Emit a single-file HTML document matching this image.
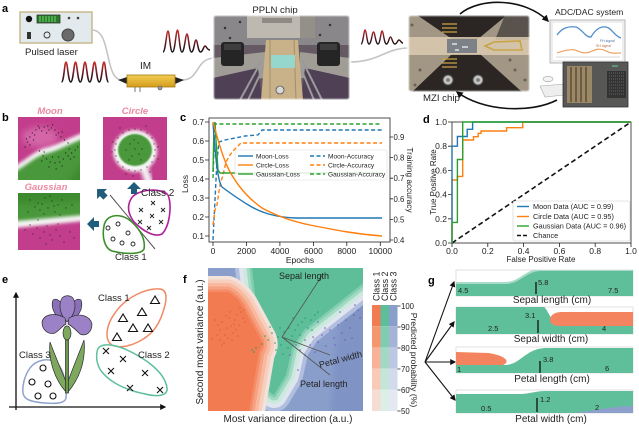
<!DOCTYPE html>
<html><head><meta charset="utf-8"><style>
html,body{margin:0;padding:0;background:#fff;}
svg{display:block;font-family:"Liberation Sans",sans-serif;}
</style></head><body>
<svg width="639" height="425" viewBox="0 0 639 425" xmlns="http://www.w3.org/2000/svg">
<defs>
<filter id="b1" x="-20%" y="-20%" width="140%" height="140%"><feGaussianBlur stdDeviation="0.8"/></filter>
<filter id="b15" x="-30%" y="-30%" width="160%" height="160%"><feGaussianBlur stdDeviation="1.5"/></filter>
<filter id="b2" x="-30%" y="-30%" width="160%" height="160%"><feGaussianBlur stdDeviation="2.2"/></filter>
<filter id="b4" x="-40%" y="-40%" width="180%" height="180%"><feGaussianBlur stdDeviation="3.5"/></filter>
<clipPath id="cM"><rect x="18" y="117" width="62" height="63"/></clipPath>
<clipPath id="cC"><rect x="103" y="117" width="64" height="63"/></clipPath>
<clipPath id="cG"><rect x="18" y="193" width="62" height="57"/></clipPath>
<clipPath id="cF"><rect x="208" y="268" width="155" height="143"/></clipPath>
<clipPath id="cP"><rect x="213" y="15" width="137" height="85" rx="3"/></clipPath>
<clipPath id="cZ"><rect x="408" y="15" width="122" height="77" rx="3"/></clipPath>
<clipPath id="s1"><rect x="456" y="270" width="177" height="26"/></clipPath>
<clipPath id="s2"><rect x="456" y="307" width="177" height="27"/></clipPath>
<clipPath id="s3"><rect x="456" y="347" width="177" height="26"/></clipPath>
<clipPath id="s4"><rect x="456" y="390" width="177" height="23"/></clipPath>
<linearGradient id="pg1" x1="0" y1="62" x2="0" y2="82" gradientUnits="userSpaceOnUse"><stop offset="0" stop-color="#c8302c"/><stop offset="0.55" stop-color="#6a1a22"/><stop offset="1" stop-color="#111"/></linearGradient>
<linearGradient id="pg2" x1="0" y1="30" x2="0" y2="52" gradientUnits="userSpaceOnUse"><stop offset="0" stop-color="#c8302c"/><stop offset="0.55" stop-color="#6a1a22"/><stop offset="1" stop-color="#111"/></linearGradient>
<linearGradient id="pg3" x1="0" y1="29" x2="0" y2="44" gradientUnits="userSpaceOnUse"><stop offset="0" stop-color="#c8302c"/><stop offset="0.55" stop-color="#6a1a22"/><stop offset="1" stop-color="#111"/></linearGradient>
<linearGradient id="im" x1="0" y1="0" x2="0" y2="1"><stop offset="0" stop-color="#f3cf52"/><stop offset="1" stop-color="#d49b1c"/></linearGradient>
<marker id="ah" viewBox="0 0 10 10" refX="8" refY="5" markerWidth="7" markerHeight="7" markerUnits="userSpaceOnUse" orient="auto"><path d="M0 0 L10 5 L0 10 Z" fill="#111"/></marker>
<marker id="ah2" viewBox="0 0 10 10" refX="8" refY="5" markerWidth="6" markerHeight="6" markerUnits="userSpaceOnUse" orient="auto"><path d="M0 0 L10 5 L0 10 Z" fill="#111"/></marker>
</defs>

<!-- ================= PANEL A ================= -->
<text x="2" y="12" font-size="11" font-weight="bold">a</text>
<rect x="20" y="12" width="72" height="31" fill="#e2eaee" stroke="#c8b88e" stroke-width="1.5"/>
<circle cx="29" cy="19" r="3.2" fill="#111"/>
<rect x="37" y="15" width="23" height="8" fill="#2a7a2a" stroke="#333" stroke-width="0.8"/>
<path d="M40 16v6M43 16v6M46 16v6M49 16v6M52 16v6M55 16v6" stroke="#62c862" stroke-width="1.2"/>
<circle cx="69" cy="18" r="1.3" fill="#444"/><circle cx="78" cy="18" r="1.3" fill="#444"/>
<rect x="27" y="32" width="4" height="7" fill="#333"/>
<circle cx="47" cy="35" r="3" fill="none" stroke="#333" stroke-width="0.9"/>
<circle cx="68" cy="35" r="6" fill="#6a6a6a" stroke="#444"/>
<text x="25" y="55" font-size="9.6" fill="#222">Pulsed laser</text>
<path d="M92 30 C112 30 104 80 122 80" fill="none" stroke="#c4c4c4" stroke-width="1.6"/>
<path d="M182 80 C200 80 195 59 214 58" fill="none" stroke="#c4c4c4" stroke-width="1.6"/>
<path d="M349 62 C380 62 385 48 409 48" fill="none" stroke="#c4c4c4" stroke-width="1.6"/>
<path d="M61.5 82 C64 82 64.5 62 66 62 C67.5 62 68.25 82 70.75 82 C73.25 82 74 62 75.5 62 C77 62 77.75 82 80.25 82 C82.75 82 83.5 62 85 62 C86.5 62 87.25 82 89.75 82 C92.25 82 93 62 94.5 62 C96 62 96.75 82 99.25 82 C101.75 82 102.5 62 104 62 C105.5 62 106 82 108.5 82" fill="none" stroke="url(#pg1)" stroke-width="1.6"/>
<path d="M163 52 C165.5 52 166.5 31 168 31 C169.5 31 170 52 172.5 52 C175 52 176 30 177.5 30 C179 30 179.5 52 182 52 C184.5 52 185.5 34 187 34 C188.5 34 189 52 191.5 52 C194 52 194.5 40 196 40 C197.5 40 198 52 200.5 52 C203 52 203.5 46 205 46 C206.5 46 207 50 210 50" fill="none" stroke="url(#pg2)" stroke-width="1.5"/>
<path d="M361 44 C363 44 364 30 365 30 C366.5 30 367 44 369 44 C371.5 44 372 32 373.5 32 C375 32 375.5 44 378 44 C380 44 381 31 382 31 C383.5 31 384 44 386.5 44 C388.5 44 389 37 390.5 37 C392 37 392.5 44 395 44 C397 44 397.5 40 399 40 C400.5 40 401 43 403 43" fill="none" stroke="url(#pg3)" stroke-width="1.4"/>
<text x="140" y="69" font-size="10" fill="#222">IM</text>
<path d="M118 80 L127 77 L127 84 Z" fill="#222"/>
<path d="M184 80 L175 77 L175 84 Z" fill="#222"/>
<rect x="127" y="75" width="48" height="12" fill="url(#im)" stroke="#a47a16" stroke-width="0.8"/>
<path d="M135 87v5M140 87v5" stroke="#777" stroke-width="1"/>
<circle cx="160" cy="88" r="2" fill="#999" stroke="#555" stroke-width="0.6"/>

<text x="275" y="13" font-size="9.6" text-anchor="middle" fill="#222">PPLN chip</text>
<g clip-path="url(#cP)">
<rect x="213" y="15" width="137" height="85" fill="#655a63"/>
<rect x="213" y="15" width="137" height="30" fill="#8a878a"/>
<path d="M225 28h0M240 22h0M330 25h0M320 35h0M230 38h0" stroke="#333" stroke-width="2.5" stroke-linecap="round"/>
<rect x="247" y="15" width="68" height="23" fill="#bdb8b0"/>
<rect x="300" y="15" width="15" height="23" fill="#938f89"/>
<rect x="262" y="18" width="30" height="5" fill="#6f6a66" opacity="0.6"/>
<path d="M213 58 L265 52 L265 78 L213 82 Z" fill="#a09c96"/>
<path d="M300 52 L350 58 L350 82 L300 78 Z" fill="#a09c96"/>
<rect x="221" y="42" width="23" height="24" rx="3" fill="#252525"/>
<rect x="224" y="44" width="17" height="6" fill="#3e3e3e"/>
<rect x="317" y="42" width="23" height="24" rx="3" fill="#252525"/>
<rect x="320" y="44" width="17" height="6" fill="#3e3e3e"/>
<path d="M213 78 L258 68 L262 100 L213 100 Z" fill="#4f4055"/>
<path d="M350 78 L305 68 L301 100 L350 100 Z" fill="#4f4055"/>
<path d="M240 100 L262 60 M248 100 L264 66 M322 100 L302 60 M314 100 L300 66" stroke="#9a9a9a" stroke-width="2"/>
<path d="M266 40 L298 40 L303 100 L261 100 Z" fill="#c9b189"/>
<path d="M270 40 L270 100 M294 40 L296 100" stroke="#a68f68" stroke-width="1"/>
<rect x="271" y="55" width="24" height="13" fill="#95d7cc"/>
<circle cx="280" cy="90" r="4" fill="#d8d8d8" stroke="#555" stroke-width="0.8"/>
</g>
<rect x="213" y="15" width="137" height="85" rx="3" fill="none" stroke="#fff" stroke-width="2" filter="url(#b1)"/>

<g clip-path="url(#cZ)">
<rect x="408" y="15" width="122" height="77" fill="#a29684"/>
<path d="M417 15 L507 15 L478 39 L452 39 Z" fill="#2b2624"/>
<path d="M452 54 L480 54 L522 92 L412 92 Z" fill="#2b2624"/>
<path d="M505 15 L530 15 L530 40 L495 40 Z" fill="#5a534d"/>
<path d="M412 25h0M420 70h0M515 70h0M525 80h0M415 85h0M510 60h0" stroke="#6a6055" stroke-width="3" stroke-linecap="round"/>
<rect x="408" y="37" width="122" height="18" fill="#dccbb0" opacity="0.85"/>
<rect x="447" y="39" width="30" height="14" fill="#7c8188"/>
<path d="M452 44h5M462 47h6M455 50h4" stroke="#e0e4e6" stroke-width="1.5"/>
<path d="M485 46 L494 42 L520 41 L522 50 L494 50 Z" fill="none" stroke="#c9a444" stroke-width="1.6"/>
<path d="M442 24h15M442 28h15M442 32h15M442 59h15M442 63h15M442 67h15" stroke="#c9a444" stroke-width="1.3"/>
<circle cx="448" cy="80" r="5" fill="#c4c4c4" stroke="#555"/>
<circle cx="478" cy="80" r="5" fill="#c4c4c4" stroke="#555"/>
<circle cx="448" cy="80" r="1.8" fill="#777"/><circle cx="478" cy="80" r="1.8" fill="#777"/>
</g>
<rect x="408" y="15" width="122" height="77" rx="3" fill="none" stroke="#fff" stroke-width="2" filter="url(#b1)"/>
<text x="423" y="101" font-size="9.6" fill="#222">MZI chip</text>
<path d="M460 14 C480 -3 525 -2 548 21" fill="none" stroke="#111" stroke-width="1.6" marker-end="url(#ah)"/>
<path d="M557 100 C530 114 482 111 457 92" fill="none" stroke="#111" stroke-width="1.6" marker-end="url(#ah)"/>
<text x="555" y="15" font-size="8.6" fill="#222">ADC/DAC system</text>
<rect x="550" y="20" width="75" height="43" fill="#eeeeee" stroke="#b8b8b8" stroke-width="1"/>
<rect x="553" y="23" width="69" height="37" fill="#fff"/>
<path d="M557 35 C562 28 568 26 576 27 C582 29 586 38 591 37 C595 30 600 26 606 27 C612 28 614 36 621 38" fill="none" stroke="#4f8fcf" stroke-width="1.3"/>
<path d="M557 53 C565 50 570 49 575 50 C580 52 584 54 590 52 C596 49 600 48 606 51 C612 54 616 53 621 53" fill="none" stroke="#f0a060" stroke-width="1.2"/>
<text x="600" y="42" font-size="3.5" fill="#4f6fa0">FH signal</text>
<text x="596" y="47" font-size="3.5" fill="#c07040">SH signal</text>
<path d="M556 57h64" stroke="#999" stroke-width="0.4"/>
<ellipse cx="548" cy="79" rx="5" ry="2.6" fill="#f4f4f4" stroke="#999" stroke-width="0.6"/>
<path d="M540 86 L566 84 L564 95 L545 97 Z" fill="#eee" stroke="#aaa" stroke-width="0.6"/>
<rect x="563" y="62" width="65" height="45" fill="#575755" stroke="#333" stroke-width="0.8"/>
<rect x="567" y="66" width="25" height="37" fill="#9c8866"/>
<path d="M571 67v35M576 67v35M581 67v35M586 67v35" stroke="#4a3f30" stroke-width="1.2"/>
<rect x="607" y="71" width="19" height="27" fill="#333"/>
<path d="M609 73h16M609 76h16M609 79h16M609 82h16M609 85h16M609 88h16M609 91h16M609 94h16" stroke="#777" stroke-width="0.8" stroke-dasharray="1,1"/>
<path d="M612 66h6" stroke="#5fbf8f" stroke-width="1.2"/>

<!-- ================= PANEL B ================= -->
<text x="2" y="121" font-size="11" font-weight="bold">b</text>
<text x="50" y="114" font-size="9.5" font-weight="bold" font-style="italic" fill="#ea8aa2" text-anchor="middle">Moon</text>
<text x="135" y="114" font-size="9.5" font-weight="bold" font-style="italic" fill="#ea8aa2" text-anchor="middle">Circle</text>
<text x="46" y="190" font-size="9.5" font-weight="bold" font-style="italic" fill="#ea8aa2" text-anchor="middle">Gaussian</text>
<g clip-path="url(#cM)">
<rect x="18" y="117" width="62" height="63" fill="#c23d8b"/>
<ellipse cx="40" cy="137" rx="18" ry="10" fill="#d466a8" filter="url(#b4)"/>
<path d="M5 195 L5 170 C20 166 33 151 45 148 C58 145 68 138 90 130 L90 195 Z" fill="#f4f4f4" filter="url(#b15)"/>
<path d="M5 195 L5 176 C20 172 33 157 45 154 C58 151 68 144 90 136 L90 195 Z" fill="#4a983a" filter="url(#b15)"/>
<path d="M60 195 L90 150 L90 195 Z" fill="#3d8a2f" filter="url(#b4)"/>
<path transform="matrix(1.192 0 0 1 -3.46 -1)" d="M24 148h0M26 143h0M28 138h0M30 134h0M33 131h0M36 129h0M40 128h0M43 127h0M46 129h0M49 131h0M52 134h0M54 138h0M57 141h0M60 144h0M28 146h0M32 136h0M38 132h0M44 131h0M50 136h0M35 127h0M42 134h0M47 126h0M55 133h0M25 140h0M31 141h0M36 152h0M39 157h0M42 160h0M45 163h0M49 164h0M53 163h0M56 160h0M60 157h0M63 154h0M66 151h0M68 148h0M40 153h0M47 158h0M52 158h0M58 154h0M62 160h0M44 168h0M55 167h0M65 158h0M50 170h0M38 162h0M61 150h0" stroke="#222" stroke-width="1.15" stroke-linecap="round"/>
</g>
<g clip-path="url(#cC)">
<rect x="103" y="117" width="64" height="63" fill="#c23d8b"/>
<ellipse cx="135" cy="151" rx="22" ry="21" fill="#f6f6f6" filter="url(#b15)"/>
<path d="M142 163 L150 185" stroke="#f3f3f3" stroke-width="8" filter="url(#b2)"/>
<ellipse cx="135" cy="150" rx="17" ry="16" fill="#4a983a" filter="url(#b1)"/>
<path transform="translate(8,4)" d="M147 146h0M146 140h0M144 134h0M139 129h0M133 126h0M127 125h0M121 126h0M115 129h0M110 134h0M108 140h0M107 146h0M108 152h0M110 158h0M115 163h0M121 166h0M127 167h0M133 166h0M139 163h0M144 158h0M146 152h0M150 143h0M104 148h0M112 124h0M142 168h0M125 172h0M138 122h0M118 170h0M150 155h0M105 138h0M122 140h0M127 145h0M131 150h0M124 152h0M130 139h0M118 146h0M134 145h0M126 136h0M121 156h0M133 156h0" stroke="#222" stroke-width="1.15" stroke-linecap="round"/>
</g>
<g clip-path="url(#cG)">
<rect x="18" y="193" width="62" height="57" fill="#c23d8b"/>
<path d="M5 180 L95 180 L95 220 L5 229 Z" fill="#f4f4f4" filter="url(#b15)"/>
<path d="M5 180 L95 180 L95 214 L5 222 Z" fill="#4a983a" filter="url(#b15)"/>
<path d="M5 180 L95 180 L95 200 L5 205 Z" fill="#3d8a2f" filter="url(#b4)"/>
<path d="M30 200h0M38 203h0M45 198h0M52 201h0M58 205h0M48 208h0M40 210h0M55 212h0M62 200h0M35 207h0M50 196h0M44 214h0M60 215h0M28 212h0M66 208h0M42 204h0M54 206h0M30 225h0M37 228h0M44 232h0M50 235h0M56 230h0M40 238h0M47 226h0M60 236h0M33 234h0M52 240h0M64 242h0M25 230h0M46 244h0M58 224h0M38 220h0M70 232h0M72 205h0M74 238h0" stroke="#222" stroke-width="1.15" stroke-linecap="round"/>
</g>
<path d="M110 195 L155 249" stroke="#555" stroke-width="1"/>
<path d="M104 226 C106 215 118 213 128 219 C138 226 146 238 144 249 C141 255 124 254 112 251 C104 248 102 236 104 226 Z" fill="none" stroke="#3b8f2a" stroke-width="1.6"/>
<path d="M131 199 C136 189 162 187 168 195 C172 205 170 226 162 234 C154 238 142 230 134 222 C128 214 127 206 131 199 Z" fill="none" stroke="#b0209a" stroke-width="1.6"/>
<g fill="none" stroke="#222" stroke-width="0.9">
<circle cx="108" cy="228" r="2"/><circle cx="118" cy="224" r="2"/><circle cx="128" cy="233" r="2"/><circle cx="113" cy="239" r="2"/><circle cx="122" cy="243" r="2"/><circle cx="133" cy="244" r="2"/>
</g>
<path d="M151 201 l4 4 M155 201 l-4 4 M139 208 l4 4 M143 208 l-4 4 M161 208 l4 4 M165 208 l-4 4 M150 214 l4 4 M154 214 l-4 4 M138 220 l4 4 M142 220 l-4 4 M159 220 l4 4 M163 220 l-4 4 M147 226 l4 4 M151 226 l-4 4" stroke="#222" stroke-width="0.9"/>
<text x="141" y="196" font-size="10" fill="#222">Class 2</text>
<text x="115" y="260" font-size="9.5" fill="#222">Class 1</text>
<g fill="#1f5d7a">
<path d="M127 189 L134 182 L141 189 L137 189 L137 194 L131 194 L131 189 Z"/>
<path d="M87 224 L94 217 L94 221 L99 221 L99 227 L94 227 L94 231 Z"/>
<g transform="translate(102,194) rotate(-45)"><path d="M-7 0 L0 -7 L7 0 L3 0 L3 5 L-3 5 L-3 0 Z"/></g>
</g>

<!-- ================= PANEL C ================= -->
<text x="180" y="121" font-size="11" font-weight="bold">c</text>
<rect x="209" y="118" width="181" height="124" fill="none" stroke="#222" stroke-width="0.8"/>
<g stroke="#222" stroke-width="0.8">
<path d="M205 122h4M205 141h4M205 160h4M205 179h4M205 198h4M205 217h4M205 236h4"/>
<path d="M390 137h3M390 157.6h3M390 178.2h3M390 198.8h3M390 219.4h3M390 240h3"/>
<path d="M213 242v4M246.5 242v4M279.9 242v4M313.4 242v4M346.8 242v4M380.3 242v4"/>
</g>
<g font-size="8.3" fill="#222" text-anchor="end">
<text x="204" y="125">0.7</text><text x="204" y="144">0.6</text><text x="204" y="163">0.5</text><text x="204" y="182">0.4</text><text x="204" y="201">0.3</text><text x="204" y="220">0.2</text><text x="204" y="239">0.1</text>
</g>
<g font-size="7.8" fill="#222">
<text x="393.5" y="140">0.9</text><text x="393.5" y="160.6">0.8</text><text x="393.5" y="181.2">0.7</text><text x="393.5" y="201.8">0.6</text><text x="393.5" y="222.4">0.5</text><text x="393.5" y="243">0.4</text>
</g>
<g font-size="8.5" fill="#222" text-anchor="middle">
<text x="213" y="254">0</text><text x="246.5" y="254">2000</text><text x="279.9" y="254">4000</text><text x="313.4" y="254">6000</text><text x="346.8" y="254">8000</text><text x="380.3" y="254">10000</text>
<text x="300" y="263">Epochs</text>
<text transform="translate(188,184) rotate(-90)">Loss</text>
</g>
<text transform="translate(407,180) rotate(90)" font-size="8.3" fill="#222" text-anchor="middle">Training accuracy</text>
<g fill="none" stroke-width="1.4">
<path d="M213 178 L214 150 L215 124 L382 124" stroke="#2ca02c" stroke-dasharray="4,2.5"/>
<path d="M213 240 L215 200 L217 160 L219 142 L225 140 L235 138 L245 136 L258 135 L262 130 L382 130" stroke="#1f77b4" stroke-dasharray="4,2.5"/>
<path d="M213 225 L215 210 L217 205 L220 185 L223 175 L226 162 L230 155 L234 150 L238 146 L241 143 L382 143" stroke="#ff7f0e" stroke-dasharray="4,2.5"/>
<path d="M213 172 L214 125 L215 122 L216 140 L218 170 L220 173 L382 173" stroke="#2ca02c"/>
<path d="M213 123 C215 150 217 180 222 187 C230 193 240 200 250 206 C262 213 275 217 295 218 L382 218" stroke="#1f77b4"/>
<path d="M213 122 C218 140 222 155 228 168 C235 182 245 196 262 208 C275 215 290 221 310 225 C335 230 355 234 382 236" stroke="#ff7f0e"/>
</g>
<rect x="235" y="150" width="152" height="30" rx="2" fill="#fff" fill-opacity="0.85" stroke="#ddd" stroke-width="0.6"/>
<g stroke-width="1.4">
<path d="M238 156h15" stroke="#1f77b4"/><path d="M238 165h15" stroke="#ff7f0e"/><path d="M238 174h15" stroke="#2ca02c"/>
<path d="M310 156h15" stroke="#1f77b4" stroke-dasharray="4,2.5"/><path d="M310 165h15" stroke="#ff7f0e" stroke-dasharray="4,2.5"/><path d="M310 174h15" stroke="#2ca02c" stroke-dasharray="4,2.5"/>
</g>
<g font-size="6.6" fill="#222">
<text x="256" y="158.3">Moon-Loss</text><text x="256" y="167.3">Circle-Loss</text><text x="256" y="176.3">Gaussian-Loss</text>
<text x="328" y="158.3">Moon-Accuracy</text><text x="328" y="167.3">Circle-Accuracy</text><text x="328" y="176.3">Gaussian-Accuracy</text>
</g>

<!-- ================= PANEL D ================= -->
<text x="423" y="123" font-size="11" font-weight="bold">d</text>
<rect x="452" y="122" width="179" height="121" fill="none" stroke="#222" stroke-width="0.8"/>
<g stroke="#222" stroke-width="0.8">
<path d="M448 243h4M448 218.8h4M448 194.6h4M448 170.4h4M448 146.2h4M448 122h4"/>
<path d="M452 243v4M487.8 243v4M523.6 243v4M559.4 243v4M595.2 243v4M631 243v4"/>
</g>
<g font-size="8.5" fill="#222" text-anchor="end">
<text x="447" y="246">0.0</text><text x="447" y="221.8">0.2</text><text x="447" y="197.6">0.4</text><text x="447" y="173.4">0.6</text><text x="447" y="149.2">0.8</text><text x="447" y="125">1.0</text>
</g>
<g font-size="8.5" fill="#222" text-anchor="middle">
<text x="452" y="254">0.0</text><text x="487.8" y="254">0.2</text><text x="523.6" y="254">0.4</text><text x="559.4" y="254">0.6</text><text x="595.2" y="254">0.8</text><text x="631" y="254">1.0</text>
</g>
<text x="541" y="262" font-size="8" fill="#222" text-anchor="middle">False Positive Rate</text>
<text transform="translate(436,182) rotate(-90)" font-size="8" fill="#222" text-anchor="middle">True Positive Rate</text>
<g fill="none" stroke-width="1.4">
<path d="M452 243 L631 122" stroke="#111" stroke-dasharray="5,3" stroke-width="1.6"/>
<path d="M452 243 V180 H457.4 V176.4 H462.7 V140 H473.5 V136.7 H478.2 V133.3 H481 V131 H506.6 V127.7 H522.7 V122 H631" stroke="#ff7f0e"/>
<path d="M452 243 V146.2 H457.4 V136.5 H467.2 V129.3 H472.6 V122 H631" stroke="#1f77b4"/>
<path d="M452 243 V222.4 H457.4 V159.5 H462.7 V122 H631" stroke="#2ca02c"/>
</g>
<rect x="513" y="201" width="117" height="40" rx="2" fill="#fff" fill-opacity="0.9" stroke="#ccc" stroke-width="0.6"/>
<g stroke-width="1.4">
<path d="M517 206.5h12" stroke="#1f77b4"/><path d="M517 216.5h12" stroke="#ff7f0e"/><path d="M517 226h12" stroke="#2ca02c"/><path d="M517 235.5h12" stroke="#111" stroke-dasharray="4,2"/>
</g>
<g font-size="7.3" fill="#222">
<text x="533" y="209">Moon Data (AUC = 0.99)</text><text x="533" y="219">Circle Data (AUC = 0.95)</text><text x="533" y="228.5">Gaussian Data (AUC = 0.96)</text><text x="533" y="238">Chance</text>
</g>

<!-- ================= PANEL E ================= -->
<text x="2" y="283" font-size="11" font-weight="bold">e</text>
<path d="M16 410 L16 293" stroke="#111" stroke-width="1.3" marker-end="url(#ah2)"/>
<path d="M9 407 L165 407" stroke="#111" stroke-width="1.3" marker-end="url(#ah2)"/>
<path d="M112 345 C104 340 106 325 115 313 C125 298 145 288 160 289 C168 290 167 300 163 312 C158 328 150 336 138 342 C128 347 118 348 112 345 Z" fill="none" stroke="#f08a62" stroke-width="1.5"/>
<path d="M97 352 C98 343 110 343 125 349 C145 358 165 372 167 388 C168 396 158 397 145 394 C125 390 110 382 102 372 C97 366 96 358 97 352 Z" fill="none" stroke="#5ebf9b" stroke-width="1.5"/>
<path d="M30 368 C36 360 48 357 57 363 C64 370 67 385 66 398 C65 403 58 404 45 403 C32 402 24 400 23 393 C22 385 25 375 30 368 Z" fill="none" stroke="#8fa2cc" stroke-width="1.5"/>
<g fill="none" stroke="#111" stroke-width="1.1">
<path d="M155 296 L150.5 303.5 L159.5 303.5 Z M142 308 L137.5 315.5 L146.5 315.5 Z M123 314 L118.5 321.5 L127.5 321.5 Z M133 324 L128.5 331.5 L137.5 331.5 Z M148 324 L143.5 331.5 L152.5 331.5 Z M117 333 L112.5 340.5 L121.5 340.5 Z"/>
<path d="M103 348 l6 6 M109 348 l-6 6 M120 356 l6 6 M126 356 l-6 6 M108 368 l6 6 M114 368 l-6 6 M142 370 l6 6 M148 370 l-6 6 M127 385 l6 6 M133 385 l-6 6 M157 387 l6 6 M163 387 l-6 6"/>
<circle cx="43" cy="368" r="3"/><circle cx="32" cy="382" r="3"/><circle cx="48" cy="384" r="3"/><circle cx="38" cy="396" r="3"/><circle cx="53" cy="396" r="3"/>
</g>
<text x="98" y="301" font-size="9.5" fill="#222">Class 1</text>
<text x="138" y="358" font-size="9.5" fill="#222">Class 2</text>
<text x="19" y="358" font-size="9.5" fill="#222">Class 3</text>
<g stroke="#2d2d2d" stroke-width="0.7">
<path d="M66 392 C55 380 48 360 50 342 C56 358 62 372 67 384 Z" fill="#7ea85e"/>
<path d="M68 392 C80 378 86 360 84 340 C78 356 72 370 67 384 Z" fill="#7ea85e"/>
<path d="M65.5 334 L65.5 393 L68.5 393 L68.5 334 Z" fill="#6b9a4f"/>
<ellipse cx="67" cy="333" rx="4" ry="7" fill="#7ea85e"/>
<path d="M64 322 C56 318 50 308 53 300 C56 298 60 300 62 305 Z" fill="#8a70b8"/>
<path d="M70 322 C78 318 84 308 81 300 C78 298 74 300 72 305 Z" fill="#8a70b8"/>
<path d="M67 322 C60 315 58 305 62 298 C65 295 70 295 73 298 C77 305 75 315 67 322 Z" fill="#9b82c6"/>
<path d="M65 318 C55 312 44 314 42 322 C42 330 48 335 55 333 C60 330 62 326 66 324 Z" fill="#9b82c6"/>
<path d="M69 318 C80 312 90 316 92 324 C92 332 86 337 80 334 C76 330 72 326 68 324 Z" fill="#9b82c6"/>
</g>

<!-- ================= PANEL F ================= -->
<text x="183" y="283" font-size="11" font-weight="bold">f</text>
<g clip-path="url(#cF)">
<rect x="208" y="268" width="155" height="143" fill="#8a9ecb"/>
<path d="M340 300 L380 270 L380 420 L330 420 Z" fill="#7f93c4" filter="url(#b4)"/>
<g stroke-linejoin="round">
<path d="M250 250 L380 250 L380 270 L304 330 L292 348 L286 375 L274 395 L263 388 L262 345 L258 320 Z" fill="#b0bedf" stroke="#b0bedf" stroke-width="34"/>
<path d="M250 250 L380 250 L380 270 L304 330 L292 348 L286 375 L274 395 L263 388 L262 345 L258 320 Z" fill="#dfe4ee" stroke="#dfe4ee" stroke-width="26"/>
<path d="M250 250 L380 250 L380 270 L304 330 L292 348 L286 375 L274 395 L263 388 L262 345 L258 320 Z" fill="#c9eadc" stroke="#c9eadc" stroke-width="18"/>
<path d="M250 250 L380 250 L380 270 L304 330 L292 348 L286 375 L274 395 L263 388 L262 345 L258 320 Z" fill="#a3d9c4" stroke="#a3d9c4" stroke-width="11"/>
<path d="M250 250 L380 250 L380 270 L304 330 L292 348 L286 375 L274 395 L263 388 L262 345 L258 320 Z" fill="#80ceb0" stroke="#80ceb0" stroke-width="5"/>
<path d="M250 250 L380 250 L380 270 L304 330 L292 348 L286 375 L274 395 L263 388 L262 345 L258 320 Z" fill="#5dbe99"/>
<path d="M190 292 L228 292 Q236 296 242 305 L261 340 Q263 346 259 352 L249 411 L249 430 L190 430 Z" fill="#f3e2da" stroke="#f3e2da" stroke-width="32"/>
<path d="M190 292 L228 292 Q236 296 242 305 L261 340 Q263 346 259 352 L249 411 L249 430 L190 430 Z" fill="#f7cfbe" stroke="#f7cfbe" stroke-width="25"/>
<path d="M190 292 L228 292 Q236 296 242 305 L261 340 Q263 346 259 352 L249 411 L249 430 L190 430 Z" fill="#f8b99e" stroke="#f8b99e" stroke-width="18"/>
<path d="M190 292 L228 292 Q236 296 242 305 L261 340 Q263 346 259 352 L249 411 L249 430 L190 430 Z" fill="#f6a181" stroke="#f6a181" stroke-width="11"/>
<path d="M190 292 L228 292 Q236 296 242 305 L261 340 Q263 346 259 352 L249 411 L249 430 L190 430 Z" fill="#f48c66" stroke="#f48c66" stroke-width="5"/>
<path d="M190 292 L228 292 Q236 296 242 305 L261 340 Q263 346 259 352 L249 411 L249 430 L190 430 Z" fill="#f27b52"/>
</g>
<path d="M215 320h0M218 325h0M220 330h0M222 322h0M225 335h0M227 328h0M229 318h0M231 326h0M233 333h0M235 320h0M237 315h0M239 325h0M241 312h0M243 318h0M220 340h0M224 343h0M228 338h0M232 340h0M236 330h0M240 308h0M244 310h0M226 316h0M230 312h0M234 324h0M217 335h0M245 322h0M238 336h0M222 345h0M212 339h0" stroke="#e0602a" stroke-width="1.5" stroke-linecap="round"/>
<path d="M252 350h0M254 352h0M256 348h0M265 336h0M268 340h0M272 333h0M275 343h0M278 337h0M281 345h0M284 332h0M286 340h0M289 328h0M292 336h0M295 330h0M298 325h0M302 322h0M305 318h0M308 328h0M311 320h0M315 315h0M288 348h0M276 350h0M270 327h0M262 344h0M300 335h0M312 330h0M318 312h0M283 354h0M293 318h0M280 328h0" stroke="#1f9a6e" stroke-width="1.5" stroke-linecap="round"/>
<path d="M296 345h0M300 350h0M305 340h0M310 345h0M313 337h0M318 342h0M322 335h0M326 346h0M330 330h0M334 338h0M338 325h0M342 333h0M346 320h0M350 328h0M354 315h0M358 310h0M345 340h0M325 328h0M315 352h0M305 355h0M335 345h0M352 338h0M298 370h0M290 355h0M318 322h0M340 312h0M355 305h0M360 318h0" stroke="#7656b3" stroke-width="1.5" stroke-linecap="round"/>
<path d="M282 337 L323 274 M282 337 L330 355 M282 337 L330 375" stroke="#555" stroke-width="0.8"/>
<text x="279" y="279" font-size="9" fill="#222">Sepal length</text>
<text transform="translate(320,368) rotate(-15)" font-size="9" fill="#222">Petal width</text>
<text x="300" y="387" font-size="9" fill="#222">Petal length</text>
</g>
<text x="288" y="422" font-size="10" fill="#222" text-anchor="middle">Most variance direction (a.u.)</text>
<text transform="translate(203,342) rotate(-90)" font-size="10" fill="#222" text-anchor="middle">Second most variance (a.u.)</text>
<g>
<rect x="372" y="305" width="8.5" height="21.2" fill="#f27b52"/><rect x="372" y="326.2" width="8.5" height="21.2" fill="#f5966f"/><rect x="372" y="347.4" width="8.5" height="21.2" fill="#f7b297"/><rect x="372" y="368.6" width="8.5" height="21.2" fill="#f8cbb9"/><rect x="372" y="389.8" width="8.5" height="21.2" fill="#f5ddd3"/>
<rect x="380.5" y="305" width="8.5" height="21.2" fill="#5dbe99"/><rect x="380.5" y="326.2" width="8.5" height="21.2" fill="#80ccb1"/><rect x="380.5" y="347.4" width="8.5" height="21.2" fill="#a1d9c5"/><rect x="380.5" y="368.6" width="8.5" height="21.2" fill="#c3e6d8"/><rect x="380.5" y="389.8" width="8.5" height="21.2" fill="#dcefe7"/>
<rect x="389" y="305" width="8.5" height="21.2" fill="#8a9ecb"/><rect x="389" y="326.2" width="8.5" height="21.2" fill="#a4b3d6"/><rect x="389" y="347.4" width="8.5" height="21.2" fill="#bcc7e1"/><rect x="389" y="368.6" width="8.5" height="21.2" fill="#d2daeb"/><rect x="389" y="389.8" width="8.5" height="21.2" fill="#e3e8f2"/>
</g>
<path d="M397.5 306h3M397.5 327h3M397.5 348h3M397.5 369h3M397.5 390h3M397.5 411h3" stroke="#222" stroke-width="0.8"/>
<g font-size="7.8" fill="#222">
<text x="401" y="309">100</text><text x="401" y="330">90</text><text x="401" y="351">80</text><text x="401" y="372">70</text><text x="401" y="393">60</text><text x="401" y="414">50</text>
</g>
<g font-size="8.8" fill="#222">
<text transform="translate(379.5,301) rotate(-90)">Class 1</text>
<text transform="translate(388,301) rotate(-90)">Class 2</text>
<text transform="translate(396.5,301) rotate(-90)">Class 3</text>
</g>
<text transform="translate(411,360) rotate(90)" font-size="8.7" fill="#222" text-anchor="middle">Predicted probability (%)</text>

<!-- ================= PANEL G ================= -->
<text x="428" y="284" font-size="11" font-weight="bold">g</text>
<g stroke="#111" stroke-width="1.1" fill="none">
<path d="M425 362 L454 282" marker-end="url(#ah2)"/>
<path d="M425 362 L454 322" marker-end="url(#ah2)"/>
<path d="M425 362 L455 362" marker-end="url(#ah2)"/>
<path d="M425 362 L455 400" marker-end="url(#ah2)"/>
</g>
<rect x="456" y="270" width="177" height="26" fill="#fff" stroke="#e2e2e2" stroke-width="1"/>
<g clip-path="url(#s1)">
<path d="M456 296 L456 282 L505 282 C520 282 525 269 540 269 L633 269 L633 296 Z" fill="#a8dcc8"/>
<path d="M456 296 L456 284 L505 284 C520 284 525 272 540 271 L633 271 L633 296 Z" fill="#5fbf9b"/>
</g>
<path d="M536 282v12" stroke="#111" stroke-width="1.3"/>
<g font-size="7.5" fill="#222">
<text x="458" y="293">4.5</text><text x="538" y="285">5.8</text><text x="608" y="293">7.5</text>
</g>
<text x="552" y="303" font-size="10" fill="#222" text-anchor="middle">Sepal length (cm)</text>
<rect x="456" y="307" width="177" height="27" fill="#fff" stroke="#e2e2e2" stroke-width="1"/>
<g clip-path="url(#s2)">
<path d="M456 334 L456 305 L540 305 C548 305 550 324 560 325 L633 325 L633 334 Z" fill="#5fbf9b"/>
<path d="M633 312 L562 312 C550 312 548 320 552 324 C555 326 558 326 565 326 L633 326 Z" fill="#f4845f"/>
</g>
<path d="M538 320v13" stroke="#111" stroke-width="1.3"/>
<g font-size="7.5" fill="#222">
<text x="525" y="318">3.1</text><text x="488" y="331">2.5</text><text x="602" y="331">4</text>
</g>
<text x="551" y="342" font-size="10" fill="#222" text-anchor="middle">Sepal width (cm)</text>
<rect x="456" y="347" width="177" height="26" fill="#fff" stroke="#e2e2e2" stroke-width="1"/>
<g clip-path="url(#s3)">
<path d="M456 373 L456 365 L505 365 C520 365 525 349 545 348 L633 348 L633 373 Z" fill="#5fbf9b"/>
<path d="M456 352 L488 353 C503 355 512 361 503 365 L456 365 Z" fill="#f4845f"/>
</g>
<path d="M540 361v12" stroke="#111" stroke-width="1.3"/>
<g font-size="7.5" fill="#222">
<text x="543" y="362">3.8</text><text x="457" y="372">1</text><text x="605" y="371">6</text>
</g>
<text x="552" y="382" font-size="10" fill="#222" text-anchor="middle">Petal length (cm)</text>
<rect x="456" y="390" width="177" height="23" fill="#fff" stroke="#e2e2e2" stroke-width="1"/>
<g clip-path="url(#s4)">
<path d="M456 413 L456 394 L520 394 C530 394 535 391 545 391 L633 391 L633 413 Z" fill="#5fbf9b"/>
<path d="M565 413 C590 413 600 407 633 406 L633 413 Z" fill="#8da0cb"/>
</g>
<path d="M537 398v14" stroke="#111" stroke-width="1.3"/>
<g font-size="7.5" fill="#222">
<text x="540" y="402">1.2</text><text x="481" y="411">0.5</text><text x="595" y="410">2</text>
</g>
<text x="551" y="422" font-size="10" fill="#222" text-anchor="middle">Petal width (cm)</text>
</svg>
</body></html>
